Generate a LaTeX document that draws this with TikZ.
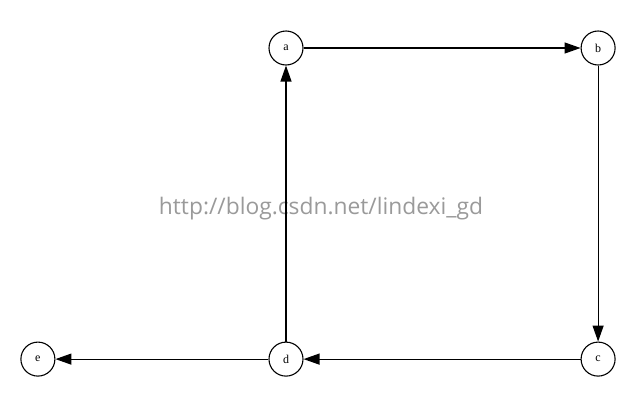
\documentclass[tikz,border=0pt]{standalone}
\usepackage{fontspec}
\setmainfont{Liberation Serif}
\newfontfamily\markfont{Open Sans}
\usepackage{xcolor}
\usetikzlibrary{positioning, arrows.meta}

\definecolor{markgray}{HTML}{9A9A9A}

\begin{document}
\begin{tikzpicture}[
      x=1pt, y=1pt,
      node distance = 276pt and 277pt,
      vertex/.style = {draw, circle, line width=1.1pt, minimum size=34pt, inner sep=0pt,
                       font=\fontsize{12}{12}\selectfont},
      edge/.style   = {line width=1.2pt, -{Triangle[length=16pt, width=11pt]}},
      watermark/.style = {text=markgray, font=\markfont\fontsize{22.8}{22.8}\selectfont}
  ]
  \useasboundingbox (0,0) rectangle (643,-418);

  % --- Watermark, under the edges ---
  \node[watermark] (url) at (321,-209) {http://blog.csdn.net/lindexi\_gd};

  % --- Vertices ---
  \node[vertex] (a) at (286,-48) {a};
  \node[vertex, right=of a] (b) {b};
  \node[vertex, below=of a]  (d) {d};
  \node[vertex, below=of b]  (c) {c};
  \node[vertex, left=213pt of d] (e) {e};

  % --- Edges ---
  \draw[edge] (a) -- (b);
  \draw[edge] (b) -- (c);
  \draw[edge] (c) -- (d);
  \draw[edge] (d) -- (a);
  \draw[edge] (d) -- (e);

\end{tikzpicture}
\end{document}
